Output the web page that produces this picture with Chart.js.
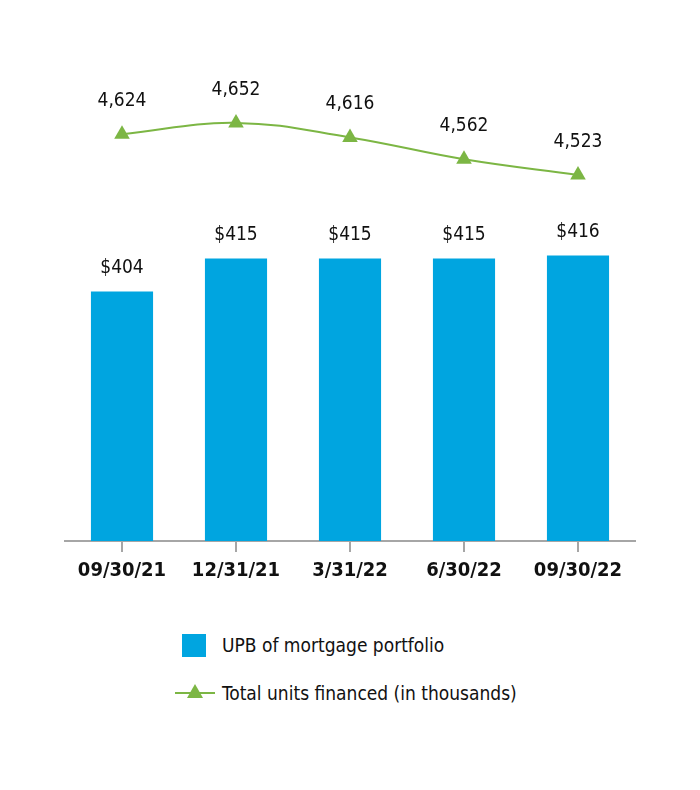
<!DOCTYPE html>
<html>
<head>
<meta charset="utf-8">
<script src="https://cdn.jsdelivr.net/npm/chart.js@4"></script>
<style>
  body { margin: 0; background: #fff; }
  #wrap { position: relative; width: 700px; height: 790px; }
  #box { position: absolute; left: 0; top: 0; width: 700px; height: 600px; }
  .leg { position: absolute; left: 0; font-family: 'Liberation Sans Narrow', 'DejaVu Sans Condensed', Roboto, sans-serif; font-size: 19px; color: #111; }
  .leg span.txt { position: absolute; left: 222px; white-space: nowrap; transform: translateY(-50%); }
  .sq { position: absolute; left: 182px; width: 24px; height: 23px; background: #00a5e0; }
  .ln { position: absolute; left: 175px; width: 40px; height: 2px; background: #7cb644; }
  .tri { position: absolute; left: 187px; width: 0; height: 0; border-left: 8px solid transparent; border-right: 8px solid transparent; border-bottom: 14px solid #7cb644; }
</style>
</head>
<body>
<div id="wrap">
  <div id="box"><canvas id="myChart"></canvas></div>
  <div id="legend"></div>
</div>
<script>
const quarters = ['09/30/21', '12/31/21', '3/31/22', '6/30/22', '09/30/22'];
const upb = [404, 415, 415, 415, 416];
const units = [4624, 4652, 4616, 4562, 4523];
const upbLabel = 'UPB of mortgage portfolio';
const unitsLabel = 'Total units financed (in thousands)';

const fontFam = "'Liberation Sans Narrow', 'DejaVu Sans Condensed', Roboto, sans-serif";
const blue = '#00a5e0';
const green = '#7cb644';
const grey = '#a6a6a6';

// value labels above bars and points
const valueLabels = {
    id: 'valueLabels',
    afterDatasetsDraw(chart) {
        const c = chart.ctx;
        c.save();
        c.font = '19px ' + fontFam;
        c.fillStyle = '#111';
        c.textAlign = 'center';
        c.textBaseline = 'middle';
        chart.getDatasetMeta(0).data.forEach((bar, i) => {
            c.fillText('$' + upb[i], bar.x, bar.y - 23);
        });
        chart.getDatasetMeta(1).data.forEach((pt, i) => {
            c.fillText(units[i].toLocaleString('en-US'), pt.x, pt.y - 33);
        });
        c.restore();
    }
};

const ctx = document.getElementById('myChart').getContext('2d');
const chart = new Chart(ctx, {
    type: 'bar',
    data: {
        labels: quarters,
        datasets: [{
            type: 'bar',
            label: upbLabel,
            data: upb,
            backgroundColor: blue,
            yAxisID: 'y',
            barPercentage: 0.545,
            categoryPercentage: 1,
            order: 2
        }, {
            type: 'line',
            label: unitsLabel,
            data: units,
            yAxisID: 'y1',
            borderColor: green,
            borderWidth: 2,
            backgroundColor: green,
            pointStyle: 'triangle',
            pointRadius: 9,
            pointBorderWidth: 0,
            tension: 0.4,
            order: 1
        }]
    },
    options: {
        responsive: true,
        maintainAspectRatio: false,
        animation: false,
        layout: { padding: { left: 65, right: 65, top: 60, bottom: 10 } },
        plugins: {
            legend: { display: false },
            tooltip: { enabled: false }
        },
        scales: {
            x: {
                grid: {
                    offset: false,
                    drawOnChartArea: false,
                    drawTicks: true,
                    tickLength: 11,
                    color: grey,
                    lineWidth: 2
                },
                border: { display: true, color: grey, width: 2 },
                ticks: {
                    color: '#111',
                    padding: 7,
                    font: { family: fontFam, size: 20, weight: 'bold' }
                }
            },
            y: { display: false, min: 321, max: 481 },
            y1: { display: false, min: 3615, max: 4808 }
        }
    },
    plugins: [valueLabels]
});

// legend below the chart
const leg = document.getElementById('legend');
leg.innerHTML =
    '<div class="leg" style="top:645px"><div class="sq" style="top:-11px"></div><span class="txt">' + upbLabel + '</span></div>' +
    '<div class="leg" style="top:693px"><div class="ln" style="top:-1px"></div><div class="tri" style="top:-9px"></div><span class="txt">' + unitsLabel + '</span></div>';
</script>
</body>
</html>
